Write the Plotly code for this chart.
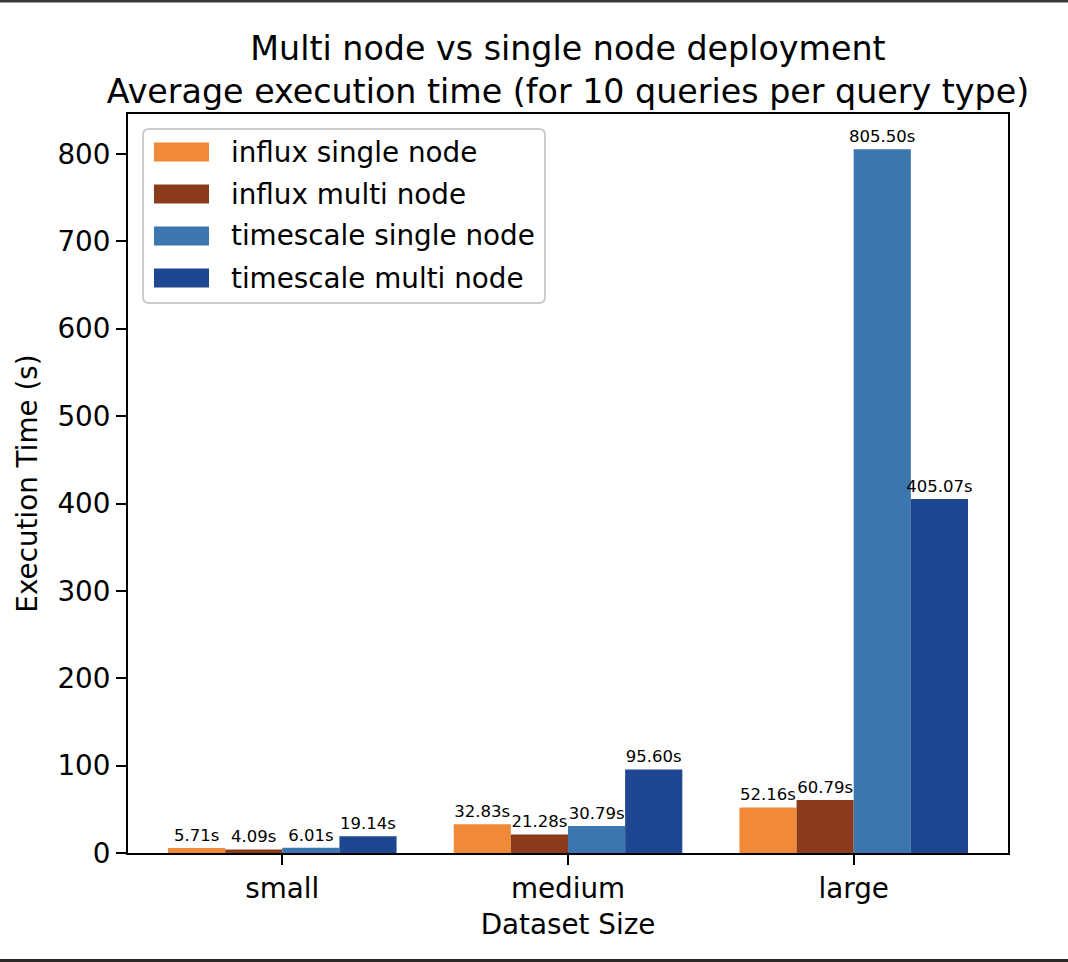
import plotly.graph_objects as go

# ---- data ----
categories = ["small", "medium", "large"]
series_names = ["influx single node", "influx multi node",
                "timescale single node", "timescale multi node"]
influx_single = [5.71, 32.83, 52.16]
influx_multi = [4.09, 21.28, 60.79]
timescale_single = [6.01, 30.79, 805.50]
timescale_multi = [19.14, 95.60, 405.07]
series_values = [influx_single, influx_multi, timescale_single, timescale_multi]
colors = ["#F08A38", "#8B3A1B", "#3B77AE", "#1F4690"]
y_ticks = [0, 100, 200, 300, 400, 500, 600, 700, 800]

FONT = "DejaVu Sans"
W, H = 1068, 962
L, R, T, B = 128, 60, 114, 109
PW, PH = W - L - R, H - T - B


def px(x):
    return (x - L) / PW


def py(y):
    return (H - B - y) / PH


fig = go.Figure()
for name, vals, col in zip(series_names, series_values, colors):
    fig.add_trace(go.Bar(
        x=categories, y=vals, name=name, marker_color=col,
        marker_line_width=0,
        texttemplate="%{y:.2f}s", textposition="outside",
        textfont=dict(family=FONT, size=16.5, color="black"),
        cliponaxis=False, constraintext="none", showlegend=False,
    ))

ymax = max(max(v) for v in series_values) * 1.05

shapes = []
annotations = []

# legend box (rounded)
x0, x1, y0, y1 = 143, 545, 129, 303
r = 6
path = (f"M {px(x0 + r)},{py(y0)} L {px(x1 - r)},{py(y0)} "
        f"Q {px(x1)},{py(y0)} {px(x1)},{py(y0 + r)} "
        f"L {px(x1)},{py(y1 - r)} Q {px(x1)},{py(y1)} {px(x1 - r)},{py(y1)} "
        f"L {px(x0 + r)},{py(y1)} Q {px(x0)},{py(y1)} {px(x0)},{py(y1 - r)} "
        f"L {px(x0)},{py(y0 + r)} Q {px(x0)},{py(y0)} {px(x0 + r)},{py(y0)} Z")
shapes.append(dict(type="path", xref="paper", yref="paper", path=path,
                   fillcolor="rgba(255,255,255,0.85)",
                   line=dict(color="#cccccc", width=2), layer="above"))
centers = [152, 194, 236, 278]
for name, col, cy in zip(series_names, colors, centers):
    shapes.append(dict(type="rect", xref="paper", yref="paper",
                       x0=px(154), x1=px(209), y0=py(cy - 9.5), y1=py(cy + 9.5),
                       fillcolor=col, line=dict(width=0), layer="above"))
    annotations.append(dict(xref="paper", yref="paper", x=px(229), y=py(cy),
                            xanchor="left", yanchor="middle", showarrow=False,
                            text=name, font=dict(family=FONT, size=27.8, color="black")))

# frame lines at top/bottom of the image
shapes.append(dict(type="rect", xref="paper", yref="paper",
                   x0=px(0), x1=px(W), y0=py(0), y1=py(2.5),
                   fillcolor="#3a3a3a", line=dict(width=0)))
shapes.append(dict(type="rect", xref="paper", yref="paper",
                   x0=px(0), x1=px(W), y0=py(959), y1=py(962),
                   fillcolor="#2b2722", line=dict(width=0)))

fig.update_layout(
    width=W, height=H,
    margin=dict(l=L, r=R, t=T, b=B, autoexpand=False),
    paper_bgcolor="white", plot_bgcolor="white",
    font=dict(family=FONT, size=27.8, color="black"),
    barmode="group", bargap=0.2, bargroupgap=0,
    title=dict(text="Multi node vs single node deployment<br>Average execution time (for 10 queries per query type)",
               x=px((L + W - R) / 2), xref="paper", xanchor="center",
               y=1 - 60 / H, yref="container", yanchor="top",
               font=dict(family=FONT, size=33.3, color="black")),
    xaxis=dict(range=[-0.54, 2.54], showline=True, linecolor="black", linewidth=2,
               mirror=True, ticks="outside", ticklen=10, tickwidth=2, tickcolor="black",
               showgrid=False, zeroline=False,
               tickfont=dict(family=FONT, size=27.8, color="black"),
               title=dict(text="Dataset Size", standoff=10,
                          font=dict(family=FONT, size=27.8, color="black"))),
    yaxis=dict(range=[0, ymax], tickvals=y_ticks, showline=True, linecolor="black",
               linewidth=2, mirror=True, ticks="outside", ticklen=10, tickwidth=2,
               tickcolor="black", showgrid=False, zeroline=False,
               tickfont=dict(family=FONT, size=27.8, color="black"),
               title=dict(text="Execution Time (s)", standoff=12,
                          font=dict(family=FONT, size=27.8, color="black"))),
    shapes=shapes, annotations=annotations, showlegend=False,
)

fig.write_html("out.html", config={"displayModeBar": False},
               post_script="document.body.style.margin='0';document.body.style.overflow='hidden';")
